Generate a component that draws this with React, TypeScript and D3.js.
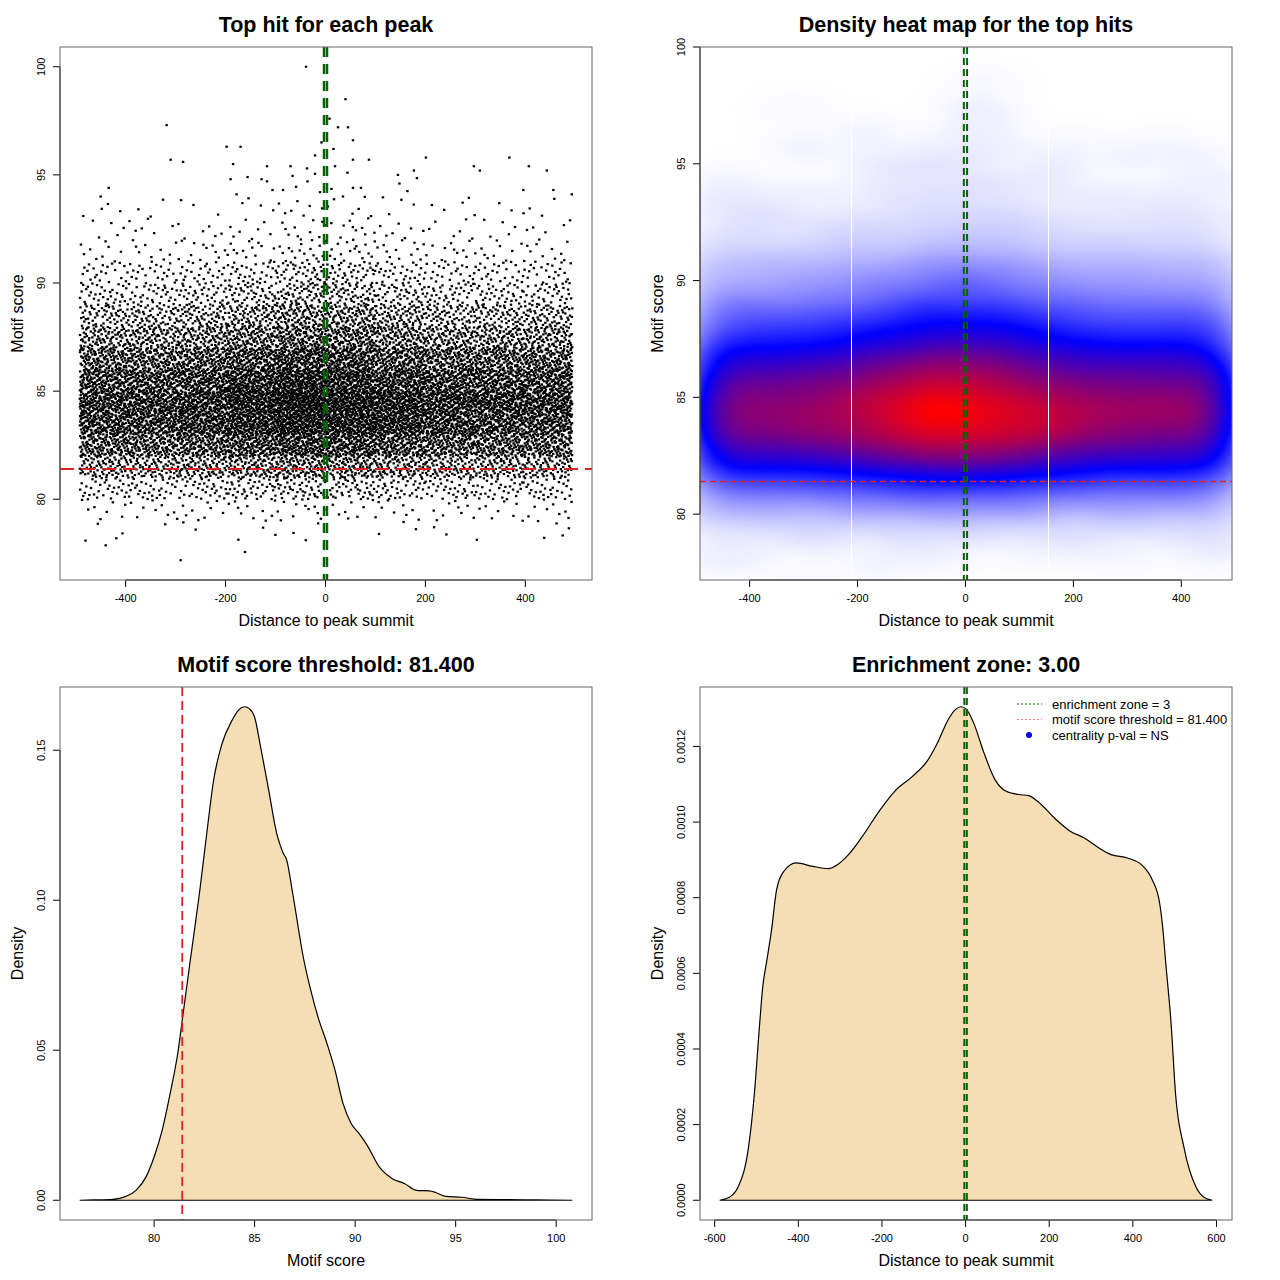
import React, { useMemo } from "react";
import * as d3 from "d3";

// ---------------- DATA ----------------
const scoreThreshold = 81.4;
const enrichmentZone = 3;

// Top hits: counts per (score bin of width 1, distance column)
const scoreBinStarts = [78, 79, 80, 81, 82, 83, 84, 85, 86, 87, 88, 89, 90, 91, 92, 93];
const distColEdges = [-492, -393.4, -294.8, -196.2, -97.6, 1.0, 99.6, 198.2, 296.8, 395.4, 494];
const hitCounts = [
  [4, 1, 2, 3, 3, 0, 3, 2, 1, 5],
  [8, 9, 9, 10, 11, 9, 9, 9, 8, 9],
  [32, 32, 35, 40, 46, 44, 38, 33, 32, 32],
  [78, 78, 85, 97, 109, 106, 92, 81, 79, 77],
  [144, 144, 157, 180, 203, 197, 170, 151, 147, 145],
  [195, 195, 210, 235, 262, 252, 235, 205, 195, 190],
  [205, 205, 220, 250, 290, 262, 245, 220, 218, 212],
  [183, 183, 193, 222, 250, 232, 205, 190, 188, 190],
  [140, 140, 152, 178, 202, 192, 165, 148, 146, 147],
  [92, 93, 102, 120, 142, 138, 112, 98, 97, 98],
  [60, 60, 68, 82, 100, 98, 78, 65, 65, 66],
  [34, 34, 39, 48, 62, 60, 45, 38, 37, 37],
  [22, 22, 25, 31, 41, 40, 29, 24, 23, 23],
  [9, 9, 11, 13, 18, 17, 12, 10, 10, 10],
  [5, 6, 6, 8, 11, 10, 7, 6, 5, 6],
  [4, 3, 3, 4, 7, 6, 4, 4, 3, 4],
];

// Individually read sparse hits (score >= 94 and < 78)
const sparseDist = [
  -39, 40, -318, 8, 25, 45, 55, -198, -170, -8, -310, -285, -185, -117, -70, -21, 44, 55, 87, 201,
  368, 297, 309, 407, 443, 177, 493, -434, -37, -21, -178, -156, -190, -128, -117, -106, -85, -66, -36, -59,
  -11, 12, 19, 35, 55, 71, 396, 456, 148, 183, 164, 145, 16, -450, -440, -290, -161,
];
const sparseScore = [
  100.0, 98.5, 97.3, 97.6, 97.2, 97.2, 96.6, 96.3, 96.3, 96.5, 95.7, 95.6, 95.5, 95.4, 95.4, 95.9, 95.1, 95.7, 95.7, 95.8,
  95.8, 95.4, 95.2, 95.4, 95.2, 95.2, 94.1, 94.4, 95.3, 95.05, 94.1, 94.9, 94.8, 94.8, 94.7, 94.3, 94.3, 94.95, 94.7, 94.45,
  94.2, 94.35, 95.4, 94.0, 94.4, 94.4, 94.3, 94.3, 94.6, 94.85, 94.25, 95.0, 96.2, 94.0, 77.87, 77.18, 77.56,
];

// Density of motif score
const scoreDensX = [
  76.3, 77.0, 77.95, 78.6, 79.1, 79.6, 80.0, 80.4, 80.8, 81.2, 81.4, 81.8, 82.25, 82.65, 82.96, 83.37, 83.88, 84.2,
  84.5, 84.75, 85.0, 85.3, 85.7, 86.1, 86.4, 86.6, 86.9, 87.45, 87.75, 88.15, 88.6, 89.0, 89.4, 89.8, 90.2, 90.6,
  91.2, 91.85, 92.45, 93.05, 93.7, 94.0, 94.5, 95.3, 96.1, 97.7, 99.0, 100.8,
];
const scoreDensY = [
  0, 0.0001, 0.0003, 0.0013, 0.0033, 0.0078, 0.0144, 0.0233, 0.0356, 0.05, 0.06, 0.08, 0.102, 0.124, 0.14, 0.152, 0.16, 0.1634,
  0.1645, 0.1638, 0.161, 0.151, 0.1367, 0.1222, 0.116, 0.1133, 0.102, 0.08, 0.0711, 0.0611, 0.0522, 0.0433, 0.0322, 0.0256, 0.0222, 0.0183,
  0.0111, 0.0072, 0.0056, 0.0033, 0.0031, 0.0026, 0.0013, 0.001, 0.0003, 0.0002, 0.0001, 0,
];

// Density of distance to summit
const distDensX = [
  -588, -565, -544, -519, -505, -493, -485, -475, -464, -452, -434.5, -405, -366, -328, -307, -280, -247, -204,
  -169, -127, -92, -67, -41, -24, -11, 2, 19, 44, 70, 96, 126, 151, 172, 216, 250, 284, 318, 348, 387, 421,
  446, 464, 472, 478, 492, 502, 522, 551, 570, 590,
];
const distDensY = [
  0, 0.000008, 0.000035, 0.000141, 0.000283, 0.000459, 0.000565, 0.000636, 0.000715, 0.000821, 0.00087, 0.000892, 0.000883, 0.000877, 0.000887, 0.000914, 0.000962, 0.001033,
  0.001082, 0.001121, 0.001161, 0.00121, 0.001272, 0.001298, 0.001305, 0.001298, 0.001263, 0.001183, 0.001113, 0.001082, 0.001073, 0.00107, 0.001055, 0.001007, 0.000976, 0.000958, 0.000932, 0.000914, 0.000905, 0.000887,
  0.000848, 0.000786, 0.000715, 0.000636, 0.000459, 0.000283, 0.000141, 0.000035, 0.000008, 0,
];

const distTicks = [-400, -200, 0, 200, 400];
const distTicksWide = [-600, -400, -200, 0, 200, 400, 600];
const scoreTicks = [80, 85, 90, 95, 100];
const scoreDensTicks = [0, 0.05, 0.1, 0.15];
const distDensTicks = [0, 0.0002, 0.0004, 0.0006, 0.0008, 0.001, 0.0012];
const heatSeamDist = [-212, 153];

const legendLabels = ["enrichment zone = 3", "motif score threshold = 81.400", "centrality p-val = NS"];

// ---------------- LAYOUT ----------------
const FONT = "'Liberation Sans', Arial, Helvetica, sans-serif";
const BOX = {
  tl: { x0: 60, x1: 592, y0: 47, y1: 580 },
  tr: { x0: 700, x1: 1232, y0: 47, y1: 580 },
  bl: { x0: 60, x1: 592, y0: 687, y1: 1220 },
  br: { x0: 700, x1: 1232, y0: 687, y1: 1220 },
};
const GREEN = "#006400";
const RED = "#dd2222";

function halton(i: number, b: number) {
  let f = 1, r = 0;
  while (i > 0) { f /= b; r += f * (i % b); i = Math.floor(i / b); }
  return r;
}
const frac = (v: number) => v - Math.floor(v);

// place each cell's hits evenly inside the cell (rotated Halton layout)
function buildHits() {
  const pts: { x: number; y: number }[] = [];
  hitCounts.forEach((row, r) => {
    row.forEach((n, c) => {
      const xa = distColEdges[c], xb = distColEdges[c + 1];
      const ya = scoreBinStarts[r], yb = ya + 1;
      const cell = r * 10 + c + 1;
      const su = frac(cell * 0.6180339887), sv = frac(cell * 0.7548776662);
      for (let k = 1; k <= n; k++) {
        pts.push({
          x: xa + frac(halton(k, 2) + su) * (xb - xa),
          y: ya + frac(halton(k, 3) + sv) * (yb - ya),
        });
      }
    });
  });
  sparseDist.forEach((x, i) => pts.push({ x, y: sparseScore[i] }));
  return pts;
}

function ext(a: number, b: number) {
  const d = (b - a) * 0.04;
  return [a - d, b + d];
}

function XAxis({ scale, ticks, y, fmt }: any) {
  return (
    <g>
      <line x1={scale(ticks[0])} x2={scale(ticks[ticks.length - 1])} y1={y} y2={y} stroke="#000" />
      {ticks.map((t: number) => (
        <g key={t}>
          <line x1={scale(t)} x2={scale(t)} y1={y} y2={y + 7} stroke="#000" />
          <text x={scale(t)} y={y + 22} fontSize={11} textAnchor="middle">{fmt(t)}</text>
        </g>
      ))}
    </g>
  );
}

function YAxis({ scale, ticks, x, fmt }: any) {
  return (
    <g>
      <line y1={scale(ticks[0])} y2={scale(ticks[ticks.length - 1])} x1={x} x2={x} stroke="#000" />
      {ticks.map((t: number) => (
        <g key={t}>
          <line y1={scale(t)} y2={scale(t)} x1={x} x2={x - 7} stroke="#000" />
          <text transform={`translate(${x - 15},${scale(t)}) rotate(-90)`} fontSize={11} textAnchor="middle">{fmt(t)}</text>
        </g>
      ))}
    </g>
  );
}

function Frame({ b, title, xlab, ylab }: any) {
  const cx = (b.x0 + b.x1) / 2, cy = (b.y0 + b.y1) / 2;
  return (
    <g>
      <rect x={b.x0} y={b.y0} width={b.x1 - b.x0} height={b.y1 - b.y0} fill="none" stroke="#666" strokeWidth={1} />
      <text x={cx} y={b.y0 - 15} fontSize={21.5} fontWeight="bold" textAnchor="middle">{title}</text>
      <text x={cx} y={b.y1 + 46} fontSize={16} textAnchor="middle">{xlab}</text>
      <text transform={`translate(${b.x0 - 37},${cy}) rotate(-90)`} fontSize={16} textAnchor="middle">{ylab}</text>
    </g>
  );
}

const fmtInt = (t: number) => String(t);

export default function App() {
  const hits = useMemo(buildHits, []);

  // ---- scales ----
  const tlX = d3.scaleLinear().domain(ext(-492, 494)).range([BOX.tl.x0, BOX.tl.x1]);
  const tlY = d3.scaleLinear().domain(ext(77.18, 100)).range([BOX.tl.y1, BOX.tl.y0]);
  const trX = d3.scaleLinear().domain([-492, 494]).range([BOX.tr.x0, BOX.tr.x1]);
  const trY = d3.scaleLinear().domain([77.18, 100]).range([BOX.tr.y1, BOX.tr.y0]);
  const blX = d3.scaleLinear().domain(ext(76.3, 100.8)).range([BOX.bl.x0, BOX.bl.x1]);
  const blY = d3.scaleLinear().domain(ext(0, d3.max(scoreDensY)!)).range([BOX.bl.y1, BOX.bl.y0]);
  const brX = d3.scaleLinear().domain(ext(-588, 590)).range([BOX.br.x0, BOX.br.x1]);
  const brY = d3.scaleLinear().domain(ext(0, d3.max(distDensY)!)).range([BOX.br.y1, BOX.br.y0]);

  // ---- heat map (2D kernel density of the hits) ----
  const heatUrl = useMemo(() => {
    const nx = 200, ny = 200;
    const [xa, xb] = trX.domain();
    const [ya, yb] = trY.domain();
    const g = new Float64Array(nx * ny);
    for (const p of hits) {
      const i = Math.floor(((p.x - xa) / (xb - xa)) * nx);
      const j = Math.floor(((p.y - ya) / (yb - ya)) * ny);
      if (i >= 0 && i < nx && j >= 0 && j < ny) g[j * nx + i] += 1;
    }
    const kern = (s: number) => {
      const r = Math.ceil(s * 3);
      const k: number[] = [];
      for (let d = -r; d <= r; d++) k.push(Math.exp((-d * d) / (2 * s * s)));
      return { k, r };
    };
    const sx = kern(42 / ((xb - xa) / nx));
    const sy = kern(0.45 / ((yb - ya) / ny));
    const t1 = new Float64Array(nx * ny);
    for (let j = 0; j < ny; j++)
      for (let i = 0; i < nx; i++) {
        let s = 0;
        for (let d = -sx.r; d <= sx.r; d++) {
          const ii = i + d;
          if (ii >= 0 && ii < nx) s += g[j * nx + ii] * sx.k[d + sx.r];
        }
        t1[j * nx + i] = s;
      }
    const t2 = new Float64Array(nx * ny);
    for (let j = 0; j < ny; j++)
      for (let i = 0; i < nx; i++) {
        let s = 0;
        for (let d = -sy.r; d <= sy.r; d++) {
          const jj = j + d;
          if (jj >= 0 && jj < ny) s += t1[jj * nx + i] * sy.k[d + sy.r];
        }
        t2[j * nx + i] = s;
      }
    let mx = 0;
    for (const v of t2) mx = Math.max(mx, v);
    const canvas = document.createElement("canvas");
    canvas.width = nx;
    canvas.height = ny;
    const ctx = canvas.getContext("2d")!;
    const img = ctx.createImageData(nx, ny);
    const a = 0.4;
    for (let j = 0; j < ny; j++)
      for (let i = 0; i < nx; i++) {
        const t = t2[j * nx + i] / mx;
        let r, gg, b;
        if (t < a) {
          const s = Math.pow(t / a, 0.75);
          r = 255 * (1 - s); gg = 255 * (1 - s); b = 255;
        } else {
          const s = Math.min(1, (t - a) / (1 - a));
          r = 255 * s; gg = 0; b = 255 * (1 - s);
        }
        const row = ny - 1 - j;
        const o = (row * nx + i) * 4;
        img.data[o] = r; img.data[o + 1] = gg; img.data[o + 2] = b; img.data[o + 3] = 255;
      }
    ctx.putImageData(img, 0, 0);
    return canvas.toDataURL();
  }, [hits]);

  const blPath = d3.area<number>()
    .x((_, i) => blX(scoreDensX[i]))
    .y0(blY(0))
    .y1((d) => blY(d))
    .curve(d3.curveMonotoneX)(scoreDensY)!;
  const brPath = d3.area<number>()
    .x((_, i) => brX(distDensX[i]))
    .y0(brY(0))
    .y1((d) => brY(d))
    .curve(d3.curveMonotoneX)(distDensY)!;

  const clip = (id: string, b: any) => (
    <clipPath id={id}><rect x={b.x0} y={b.y0} width={b.x1 - b.x0} height={b.y1 - b.y0} /></clipPath>
  );

  return (
    <svg width={1280} height={1280} style={{ position: "absolute", left: 0, top: 0, background: "#fff" }}
      fontFamily={FONT} fill="#000">
      <defs>
        {clip("ctl", BOX.tl)}
        {clip("ctr", BOX.tr)}
        {clip("cbl", BOX.bl)}
        {clip("cbr", BOX.br)}
      </defs>

      {/* ---------- Top left: scatter ---------- */}
      <g clipPath="url(#ctl)">
        {hits.map((p, i) => (
          <rect key={i} x={tlX(p.x) - 1.2} y={tlY(p.y) - 1.1} width={2.4} height={2.2} fill="#000" />
        ))}
        <line x1={BOX.tl.x0} x2={BOX.tl.x1} y1={tlY(scoreThreshold)} y2={tlY(scoreThreshold)}
          stroke={RED} strokeWidth={2} strokeDasharray="14 7" />
        {[-enrichmentZone, enrichmentZone].map((z) => (
          <line key={z} x1={tlX(z)} x2={tlX(z)} y1={BOX.tl.y0} y2={BOX.tl.y1}
            stroke={GREEN} strokeWidth={2.5} strokeDasharray="10 7" />
        ))}
      </g>
      <XAxis scale={tlX} ticks={distTicks} y={BOX.tl.y1} fmt={fmtInt} />
      <YAxis scale={tlY} ticks={scoreTicks} x={BOX.tl.x0} fmt={fmtInt} />
      <Frame b={BOX.tl} title="Top hit for each peak" xlab="Distance to peak summit" ylab="Motif score" />

      {/* ---------- Top right: heat map ---------- */}
      <g clipPath="url(#ctr)">
        <image href={heatUrl} x={BOX.tr.x0} y={BOX.tr.y0} width={BOX.tr.x1 - BOX.tr.x0}
          height={BOX.tr.y1 - BOX.tr.y0} preserveAspectRatio="none" />
        {heatSeamDist.map((s) => (
          <line key={s} x1={Math.round(trX(s)) + 0.5} x2={Math.round(trX(s)) + 0.5} y1={BOX.tr.y0} y2={BOX.tr.y1}
            stroke="#fff" strokeWidth={1} />
        ))}
        <line x1={BOX.tr.x0} x2={BOX.tr.x1} y1={trY(scoreThreshold)} y2={trY(scoreThreshold)}
          stroke={RED} strokeWidth={1.5} strokeDasharray="6 4" />
        {[-enrichmentZone, enrichmentZone].map((z) => (
          <line key={z} x1={trX(z)} x2={trX(z)} y1={BOX.tr.y0} y2={BOX.tr.y1}
            stroke={GREEN} strokeWidth={2} strokeDasharray="7 4" />
        ))}
      </g>
      <XAxis scale={trX} ticks={distTicks} y={BOX.tr.y1} fmt={fmtInt} />
      <YAxis scale={trY} ticks={scoreTicks} x={BOX.tr.x0} fmt={fmtInt} />
      <Frame b={BOX.tr} title="Density heat map for the top hits" xlab="Distance to peak summit" ylab="Motif score" />

      {/* ---------- Bottom left: score density ---------- */}
      <g clipPath="url(#cbl)">
        <path d={blPath} fill="#F5DEB3" stroke="#000" strokeWidth={1.2} />
        <line x1={blX(scoreThreshold)} x2={blX(scoreThreshold)} y1={BOX.bl.y0} y2={BOX.bl.y1}
          stroke={RED} strokeWidth={1.8} strokeDasharray="9 5" />
      </g>
      <XAxis scale={blX} ticks={scoreTicks} y={BOX.bl.y1} fmt={fmtInt} />
      <YAxis scale={blY} ticks={scoreDensTicks} x={BOX.bl.x0} fmt={(t: number) => t.toFixed(2)} />
      <Frame b={BOX.bl} title="Motif score threshold: 81.400" xlab="Motif score" ylab="Density" />

      {/* ---------- Bottom right: distance density ---------- */}
      <g clipPath="url(#cbr)">
        <path d={brPath} fill="#F5DEB3" stroke="#000" strokeWidth={1.2} />
        {[-enrichmentZone, enrichmentZone].map((z) => (
          <line key={z} x1={brX(z)} x2={brX(z)} y1={BOX.br.y0} y2={BOX.br.y1}
            stroke={GREEN} strokeWidth={2} strokeDasharray="7 4" />
        ))}
      </g>
      <XAxis scale={brX} ticks={distTicksWide} y={BOX.br.y1} fmt={fmtInt} />
      <YAxis scale={brY} ticks={distDensTicks} x={BOX.br.x0} fmt={(t: number) => t.toFixed(4)} />
      <Frame b={BOX.br} title="Enrichment zone: 3.00" xlab="Distance to peak summit" ylab="Density" />

      {/* legend */}
      <g fontSize={13}>
        <line x1={1017} x2={1042} y1={704} y2={704} stroke={GREEN} strokeWidth={1} strokeDasharray="2 2" />
        <line x1={1017} x2={1042} y1={719.5} y2={719.5} stroke="#f08080" strokeWidth={1.2} strokeDasharray="2 2" />
        <circle cx={1029} cy={735} r={3} fill="#0000ff" />
        {legendLabels.map((l, i) => (
          <text key={l} x={1052} y={708.5 + i * 15.5}>{l}</text>
        ))}
      </g>
    </svg>
  );
}
